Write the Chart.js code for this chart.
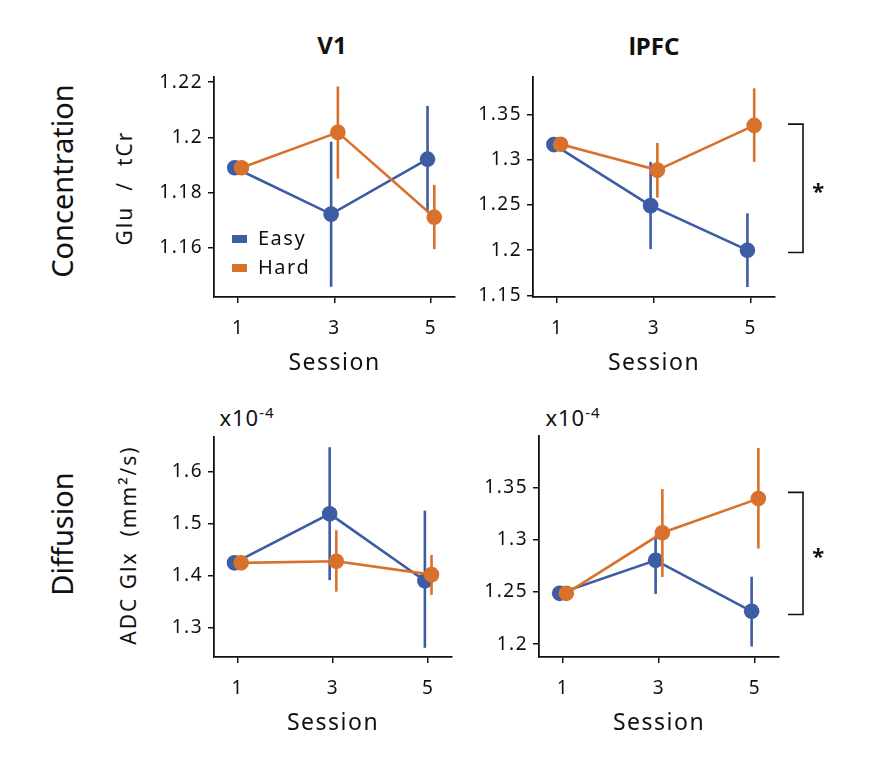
<!DOCTYPE html>
<html>
<head>
<meta charset="utf-8">
<script src="https://cdn.jsdelivr.net/npm/chart.js@4.4.1/dist/chart.umd.min.js"></script>
<style>
  body { margin: 0; background: #fff; }
  #wrap { position: relative; width: 871px; height: 757px; overflow: hidden; font-family: "Noto Sans", sans-serif; color: #111; }
  #wrap canvas { position: absolute; }
  .lbl { position: absolute; white-space: nowrap; transform: translate(-50%, -50%); }
  .rot { transform: translate(-50%, -50%) rotate(-90deg); }
</style>
</head>
<body>
<div id="wrap">
  <div class="lbl" style="left:332px;top:44px;font-size:24px;font-weight:bold;">V1</div>
  <div class="lbl" style="left:654px;top:45px;font-size:24px;font-weight:bold;">lPFC</div>
  <div class="lbl rot" style="left:61px;top:181px;font-size:29px;">Concentration</div>
  <div class="lbl rot" style="left:61px;top:534px;font-size:29px;">Diffusion</div>
  <div class="lbl rot" style="left:124px;top:188px;font-size:21px;letter-spacing:2px;">Glu&nbsp; / &nbsp;tCr</div>
  <div class="lbl rot" style="left:128px;top:545px;font-size:21px;letter-spacing:2px;">ADC Glx &nbsp;(mm²/s)</div>
  <div class="lbl" style="left:247px;top:417px;font-size:22px;letter-spacing:1px;">x10<sup style="font-size:15px;">-4</sup></div>
  <div class="lbl" style="left:573px;top:417px;font-size:22px;letter-spacing:1px;">x10<sup style="font-size:15px;">-4</sup></div>
  <canvas id="c1"></canvas>
  <canvas id="c2"></canvas>
  <canvas id="c3"></canvas>
  <canvas id="c4"></canvas>
</div>
<script>
const sessions = [1, 3, 5];
const sessionTicks = ["1", "3", "5"];
const groups = ["Easy", "Hard"];
const colors = ["#3c5ca4", "#d8712b"];

// V1 concentration (Glu / tCr)
const v1ConcEasy = [1.189, 1.1722, 1.1921];
const v1ConcEasyLo = [1.189, 1.1459, 1.1728];
const v1ConcEasyHi = [1.189, 1.1984, 1.2114];
const v1ConcHard = [1.189, 1.2018, 1.1711];
const v1ConcHardLo = [1.189, 1.185, 1.1595];
const v1ConcHardHi = [1.189, 1.2184, 1.1828];
const v1ConcTicks = [1.16, 1.18, 1.2, 1.22];
const v1ConcTickLabels = ["1.16", "1.18", "1.2", "1.22"];

// lPFC concentration
const pfcConcEasy = [1.3166, 1.2492, 1.2];
const pfcConcEasyLo = [1.3166, 1.2012, 1.1593];
const pfcConcEasyHi = [1.3166, 1.2975, 1.2407];
const pfcConcHard = [1.317, 1.2884, 1.3378];
const pfcConcHardLo = [1.317, 1.2581, 1.2975];
const pfcConcHardHi = [1.317, 1.3184, 1.3787];
const pfcConcTicks = [1.15, 1.2, 1.25, 1.3, 1.35];
const pfcConcTickLabels = ["1.15", "1.2", "1.25", "1.3", "1.35"];
const pfcConcSig = [1.1974, 1.3392];

// V1 diffusion (ADC Glx, x10^-4 mm2/s)
const v1DiffEasy = [1.4246, 1.519, 1.39];
const v1DiffEasyLo = [1.4246, 1.3913, 1.2609];
const v1DiffEasyHi = [1.4246, 1.6473, 1.5252];
const v1DiffHard = [1.4246, 1.4278, 1.4019];
const v1DiffHardLo = [1.4246, 1.3691, 1.3628];
const v1DiffHardHi = [1.4246, 1.4873, 1.4398];
const v1DiffTicks = [1.3, 1.4, 1.5, 1.6];
const v1DiffTickLabels = ["1.3", "1.4", "1.5", "1.6"];

// lPFC diffusion
const pfcDiffEasy = [1.2487, 1.2803, 1.2315];
const pfcDiffEasyLo = [1.2487, 1.2481, 1.1978];
const pfcDiffEasyHi = [1.2487, 1.3041, 1.2646];
const pfcDiffHard = [1.2487, 1.3066, 1.3393];
const pfcDiffHardLo = [1.2487, 1.2644, 1.2916];
const pfcDiffHardHi = [1.2487, 1.3484, 1.3878];
const pfcDiffTicks = [1.2, 1.25, 1.3, 1.35];
const pfcDiffTickLabels = ["1.2", "1.25", "1.3", "1.35"];
const pfcDiffSig = [1.2284, 1.3453];

Chart.defaults.font.family = "'Noto Sans', sans-serif";
Chart.defaults.color = "#111";

const dodge = 0.07;
const axisW = 70, padTop = 12, xAxisH = 80;

// a bit of tracking on all canvas text, like the original figure
const spacing = {
  id: "spacing",
  beforeDraw(chart) { chart.ctx.letterSpacing = "1.5px"; },
};

// error bars, drawn right before each dataset's line and dots
const errorBars = {
  id: "errorBars",
  beforeDatasetDraw(chart, args) {
    const ds = chart.data.datasets[args.index];
    const { ctx, scales: { x, y } } = chart;
    ctx.save();
    ctx.strokeStyle = ds.borderColor;
    ctx.lineWidth = 2.6;
    ds.data.forEach((p) => {
      if (p.hi - p.lo < 1e-6) return;
      const px = x.getPixelForValue(p.x);
      ctx.beginPath();
      ctx.moveTo(px, y.getPixelForValue(p.lo));
      ctx.lineTo(px, y.getPixelForValue(p.hi));
      ctx.stroke();
    });
    ctx.restore();
  },
};

const innerLegend = {
  id: "innerLegend",
  afterDraw(chart, args, opts) {
    if (!opts.show) return;
    const { ctx, chartArea } = chart;
    ctx.save();
    ctx.font = "20px 'Noto Sans', sans-serif";
    ctx.textBaseline = "middle";
    chart.data.datasets.forEach((ds, i) => {
      const cy = chartArea.bottom - 58 + i * 29;
      ctx.fillStyle = ds.borderColor;
      ctx.fillRect(chartArea.left + 18, cy - 4, 15, 8);
      ctx.fillStyle = "#111";
      ctx.fillText(ds.label, chartArea.left + 44, cy);
    });
    ctx.restore();
  },
};

const sigBracket = {
  id: "sigBracket",
  afterDraw(chart, args, opts) {
    if (!opts.range) return;
    const { ctx, chartArea, scales: { y } } = chart;
    const y0 = y.getPixelForValue(opts.range[1]);
    const y1 = y.getPixelForValue(opts.range[0]);
    const x0 = chartArea.right + opts.offset;
    const x1 = x0 + 15;
    ctx.save();
    ctx.strokeStyle = "#111";
    ctx.lineWidth = 1.6;
    ctx.beginPath();
    ctx.moveTo(x0, y0);
    ctx.lineTo(x1, y0);
    ctx.lineTo(x1, y1);
    ctx.lineTo(x0, y1);
    ctx.stroke();
    ctx.fillStyle = "#111";
    ctx.font = "bold 22px 'Noto Sans', sans-serif";
    ctx.textAlign = "center";
    ctx.textBaseline = "middle";
    ctx.fillText("*", x1 + 16, (y0 + y1) / 2 + 4);
    ctx.restore();
  },
};

function series(mean, lo, hi, shift) {
  return sessions.map((s, i) => ({ x: s + shift, y: mean[i], lo: lo[i], hi: hi[i] }));
}

function makePanel(p) {
  const canvas = document.getElementById(p.id);
  const w = p.area.right - p.area.left + axisW + p.padRight;
  const h = p.area.bottom - p.area.top + padTop + xAxisH;
  canvas.width = w;
  canvas.height = h;
  canvas.style.left = (p.area.left - axisW) + "px";
  canvas.style.top = (p.area.top - padTop) + "px";
  canvas.style.width = w + "px";
  canvas.style.height = h + "px";

  const datasets = p.values.map((v, i) => ({
    label: groups[i],
    data: series(v[0], v[1], v[2], i === 0 ? -dodge : dodge),
    borderColor: colors[i],
    backgroundColor: colors[i],
    pointBackgroundColor: colors[i],
    pointBorderWidth: 0,
    pointRadius: 7.8,
    borderWidth: 2.6,
    order: 2 - i,
    clip: false,
  }));

  new Chart(canvas, {
    type: "line",
    data: { datasets },
    options: {
      responsive: false,
      animation: false,
      layout: { padding: { top: padTop, right: p.padRight, left: 0, bottom: 0 } },
      plugins: {
        legend: { display: false },
        tooltip: { enabled: false },
        innerLegend: { show: !!p.legend },
        sigBracket: { range: p.sig, offset: p.sigOffset },
      },
      scales: {
        x: {
          type: "linear",
          min: 0.5,
          max: 5.5,
          afterFit: (s) => { s.height = xAxisH; },
          afterBuildTicks: (s) => { s.ticks = sessions.map((v) => ({ value: v })); },
          ticks: {
            font: { size: 19 },
            padding: 14,
            callback: (v, i) => sessionTicks[i],
          },
          grid: { drawOnChartArea: false, drawTicks: true, tickLength: 6, color: "#111", lineWidth: 1.5 },
          border: { display: true, color: "#111", width: 1.8 },
          title: { display: true, text: "Session", font: { size: 23 }, padding: { top: 0, bottom: 0 } },
        },
        y: {
          min: p.yMin,
          max: p.yMax,
          afterFit: (s) => { s.width = axisW; },
          afterBuildTicks: (s) => { s.ticks = p.ticks.map((v) => ({ value: v })); },
          ticks: {
            font: { size: 19 },
            padding: 5,
            callback: (v, i) => p.tickLabels[i],
          },
          grid: { drawOnChartArea: false, drawTicks: true, tickLength: 6, color: "#111", lineWidth: 1.5 },
          border: { display: true, color: "#111", width: 1.8 },
        },
      },
    },
    plugins: [spacing, errorBars, innerLegend, sigBracket],
  });
}

makePanel({
  id: "c1",
  area: { left: 214, right: 455, top: 73, bottom: 297 },
  padRight: 10,
  yMin: 1.1422, yMax: 1.2217,
  ticks: v1ConcTicks, tickLabels: v1ConcTickLabels,
  values: [[v1ConcEasy, v1ConcEasyLo, v1ConcEasyHi], [v1ConcHard, v1ConcHardLo, v1ConcHardHi]],
  legend: true,
});
makePanel({
  id: "c2",
  area: { left: 533, right: 775, top: 73, bottom: 297 },
  padRight: 70,
  yMin: 1.1483, yMax: 1.3908,
  ticks: pfcConcTicks, tickLabels: pfcConcTickLabels,
  values: [[pfcConcEasy, pfcConcEasyLo, pfcConcEasyHi], [pfcConcHard, pfcConcHardLo, pfcConcHardHi]],
  sig: pfcConcSig, sigOffset: 13,
});
makePanel({
  id: "c3",
  area: { left: 214, right: 452, top: 433, bottom: 657 },
  padRight: 10,
  yMin: 1.2432, yMax: 1.6663,
  ticks: v1DiffTicks, tickLabels: v1DiffTickLabels,
  values: [[v1DiffEasy, v1DiffEasyLo, v1DiffEasyHi], [v1DiffHard, v1DiffHardLo, v1DiffHardHi]],
});
makePanel({
  id: "c4",
  area: { left: 539, right: 779, top: 432, bottom: 657 },
  padRight: 70,
  yMin: 1.1878, yMax: 1.3988,
  ticks: pfcDiffTicks, tickLabels: pfcDiffTickLabels,
  values: [[pfcDiffEasy, pfcDiffEasyLo, pfcDiffEasyHi], [pfcDiffHard, pfcDiffHardLo, pfcDiffHardHi]],
  sig: pfcDiffSig, sigOffset: 9,
});
</script>
</body>
</html>
